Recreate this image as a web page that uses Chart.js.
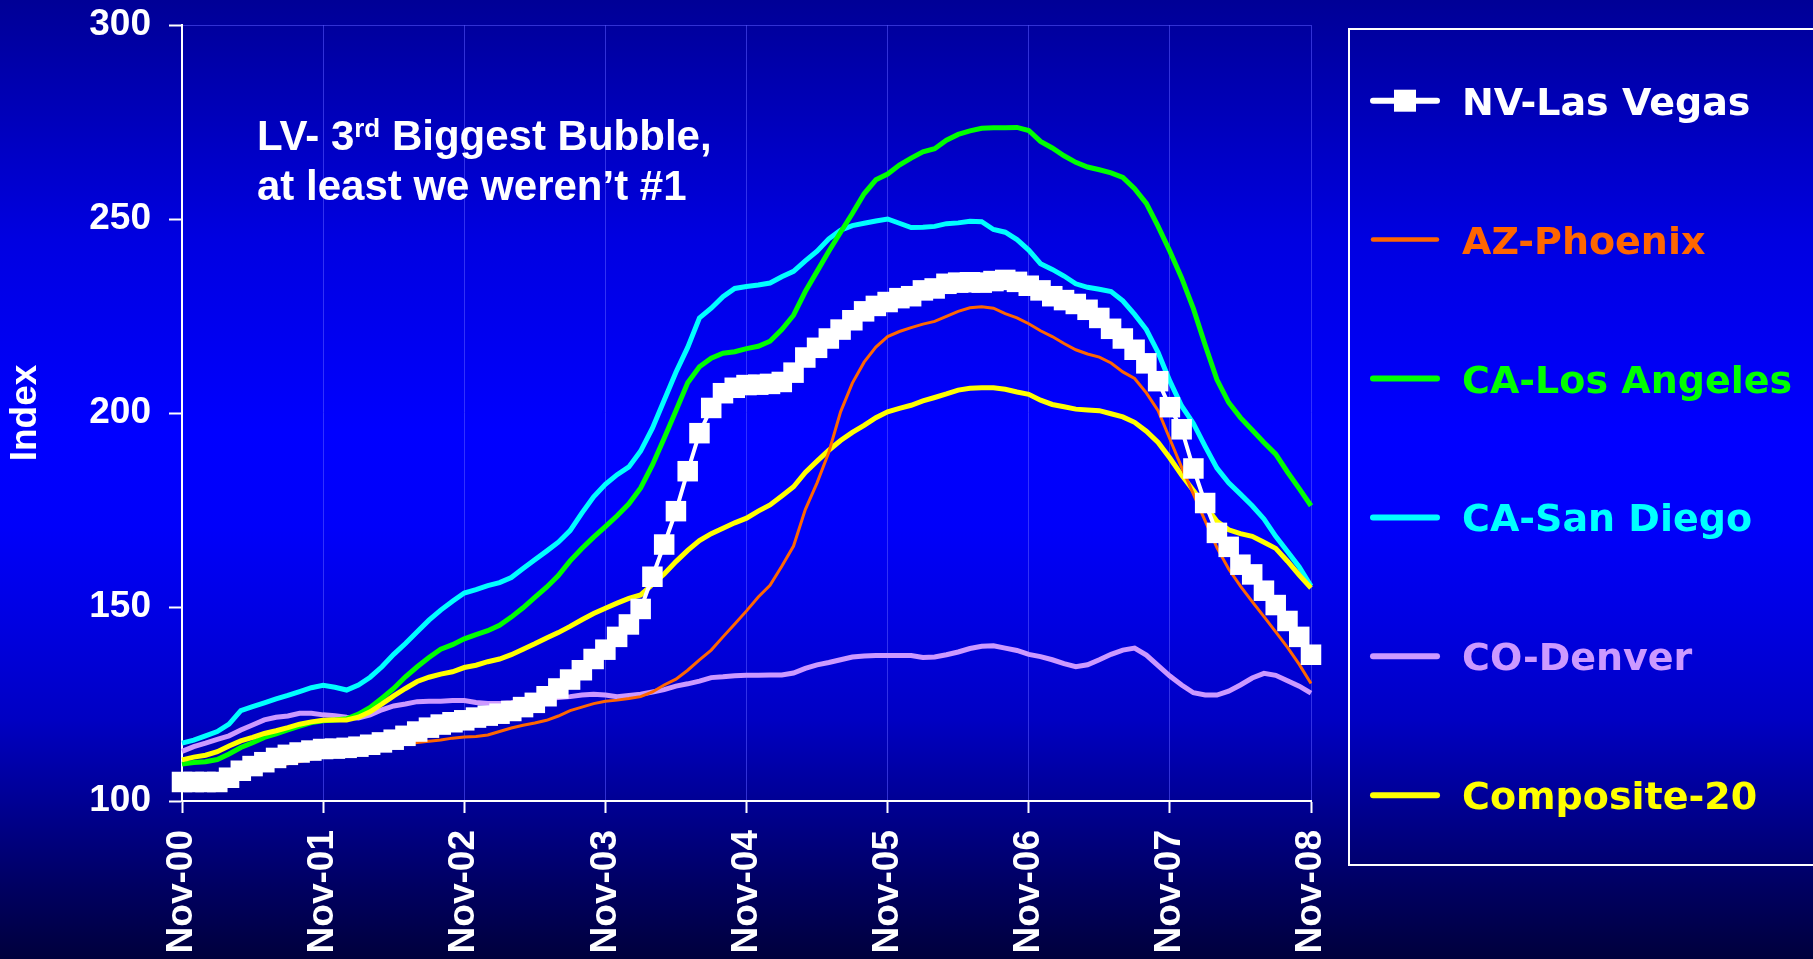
<!DOCTYPE html>
<html>
<head>
<meta charset="utf-8">
<title>Home price index, Nov-00 to Nov-08</title>
<script src="https://cdn.jsdelivr.net/npm/chart.js@4.4.1/dist/chart.umd.min.js"></script>
<style>
  html, body {
    margin: 0; padding: 0; width: 1813px; height: 959px; overflow: hidden;
    background: linear-gradient(to bottom,
      rgb(0,0,150) 0%, rgb(0,0,225) 25%, rgb(0,0,255) 45%, rgb(0,0,250) 55%,
      rgb(0,0,225) 65%, rgb(0,0,195) 75%, rgb(0,0,140) 85%, rgb(0,0,100) 92%, rgb(0,0,60) 100%);
  }
  canvas { display: block; }
</style>
</head>
<body>
<canvas id="chart" width="1813" height="959"></canvas>
<script>
// Month names, starting from November (first month of the series)
const monthCycle = ['Nov','Dec','Jan','Feb','Mar','Apr','May','Jun','Jul','Aug','Sep','Oct'];
const monthCount = 97; // Nov-00 .. Nov-08
const monthLabels = [];
for (let i = 0; i < monthCount; i++) {
  const yr = Math.floor((i + 10) / 12);
  monthLabels.push(monthCycle[i % 12] + '-' + String(yr).padStart(2, '0'));
}
const yTicks = [100, 150, 200, 250, 300];

// Monthly index values
const lasVegas = [
  104.9,104.9,104.9,104.9,106.0,107.8,109.0,110.0,111.1,111.9,112.5,113.0,
  113.4,113.5,113.7,114.0,114.5,115.1,115.8,116.8,117.9,118.9,119.7,120.3,
  120.8,121.5,122.0,122.5,123.2,124.2,125.3,127.0,129.0,131.3,133.7,136.6,
  139.0,142.3,145.5,149.5,157.8,166.1,174.7,185.0,194.8,201.3,205.1,206.5,
  207.2,207.3,207.5,208.0,210.4,214.3,216.8,219.2,221.5,223.9,226.2,227.6,
  228.6,229.6,230.1,231.6,232.1,233.3,233.6,233.7,233.6,234.0,234.3,233.8,
  232.8,231.6,230.1,229.1,228.1,226.6,224.5,221.7,219.2,216.3,212.8,208.2,
  201.5,195.8,185.7,176.8,169.1,165.5,160.9,158.4,154.2,150.5,146.4,142.3,137.7
];
const phoenix = [
  105.5,105.5,105.6,105.8,106.3,107.0,107.7,108.4,109.0,109.6,110.2,110.8,
  111.3,111.7,112.0,112.4,112.9,113.4,114.0,114.6,115.1,115.4,115.7,116.2,
  116.5,116.6,117.0,117.9,118.8,119.5,120.1,120.8,121.9,123.3,124.2,125.1,
  125.7,126.0,126.4,126.9,128.1,129.9,131.4,133.7,136.4,138.9,142.3,145.6,
  149.0,152.6,155.6,160.5,165.7,175.1,182.0,189.9,200.3,207.7,213.1,217.0,
  219.7,221.0,222.0,222.9,223.6,224.9,226.2,227.1,227.4,227.0,225.6,224.5,
  223.0,221.2,219.7,217.9,216.3,215.2,214.4,212.9,210.6,208.9,205.2,200.6,
  193.3,186.0,179.1,172.2,165.3,159.8,155.4,151.4,147.5,143.6,139.6,135.2,130.3
];
const losAngeles = [
  109.5,109.9,110.1,110.7,112.1,113.8,115.0,116.4,117.3,118.3,119.3,120.2,
  120.7,120.9,121.2,122.4,124.1,126.5,129.0,132.0,134.6,137.0,139.1,140.3,
  141.8,142.9,143.9,145.3,147.4,149.8,152.5,155.1,158.1,161.9,165.1,168.0,
  170.7,173.5,176.6,180.7,186.6,193.5,200.6,207.8,211.9,214.1,215.4,215.8,
  216.6,217.2,218.5,221.5,225.2,231.3,236.5,241.7,246.6,251.4,256.5,260.1,
  261.6,263.9,265.7,267.3,268.1,270.3,271.8,272.7,273.4,273.5,273.5,273.6,
  272.8,270.0,268.3,266.3,264.6,263.4,262.7,261.9,260.7,257.8,254.0,248.1,
  241.7,234.8,226.9,217.5,208.6,202.7,198.8,195.6,192.4,189.4,184.8,180.5,176.1
];
const sanDiego = [
  114.9,115.7,116.8,117.9,119.8,123.3,124.3,125.3,126.3,127.2,128.2,129.2,
  129.8,129.3,128.6,129.9,131.9,134.6,137.8,140.6,143.6,146.6,149.2,151.5,
  153.6,154.5,155.5,156.3,157.6,159.9,162.2,164.4,166.7,169.7,174.2,178.4,
  181.6,184.1,186.1,190.2,196.1,203.3,210.5,216.9,224.5,227.0,230.0,232.1,
  232.6,233.0,233.5,235.1,236.5,239.2,241.7,244.9,247.1,248.3,248.9,249.5,
  250.0,248.9,247.8,247.9,248.1,248.8,249.0,249.4,249.3,247.3,246.6,244.7,
  242.0,238.5,237.0,235.3,233.3,232.4,231.9,231.3,228.9,225.4,221.5,215.6,
  208.2,201.8,197.3,191.4,185.8,182.0,179.1,176.1,172.7,168.2,164.3,160.3,155.4
];
const denver = [
  112.8,114.0,114.9,115.9,116.8,118.3,119.6,120.9,121.6,121.9,122.6,122.6,
  122.2,122.0,121.6,121.4,122.2,123.5,124.5,125.0,125.6,125.7,125.7,125.9,
  125.9,125.4,125.1,125.1,125.3,125.7,126.2,126.4,126.7,126.9,127.3,127.5,
  127.3,126.9,127.2,127.5,128.1,128.7,129.6,130.2,130.9,131.8,132.0,132.3,
  132.4,132.4,132.5,132.5,133.0,134.2,135.1,135.7,136.4,137.1,137.4,137.5,
  137.5,137.5,137.5,137.0,137.1,137.7,138.4,139.3,139.9,140.0,139.4,138.8,
  137.8,137.2,136.4,135.4,134.6,135.1,136.4,137.8,138.9,139.4,137.6,134.9,
  132.2,129.9,127.9,127.3,127.3,128.3,129.9,131.7,132.9,132.4,131.0,129.6,127.8
];
const composite20 = [
  110.6,111.3,111.8,112.7,114.2,115.5,116.4,117.4,118.1,118.9,119.8,120.4,
  120.8,120.9,120.9,121.6,123.0,125.0,127.1,129.0,130.8,131.9,132.7,133.3,
  134.4,135.0,135.9,136.6,137.7,139.1,140.5,142.0,143.4,145.0,146.7,148.3,
  149.7,151.0,152.2,153.1,155.8,158.5,161.7,164.6,167.1,168.9,170.3,171.7,
  172.9,174.7,176.3,178.6,181.0,184.7,187.6,190.4,192.9,195.0,196.8,198.8,
  200.3,201.2,202.0,203.1,204.0,204.9,205.9,206.4,206.5,206.5,206.1,205.4,
  204.8,203.3,202.2,201.6,201.0,200.8,200.6,199.8,199.0,197.6,195.3,192.4,
  188.4,184.0,180.0,176.1,172.1,169.9,168.9,168.2,166.7,165.1,161.8,158.2,154.9
];

const seriesNames = ['NV-Las Vegas','AZ-Phoenix','CA-Los Angeles','CA-San Diego','CO-Denver','Composite-20'];
const seriesColors = ['#ffffff','#ff6600','#00ff00','#00ffff','#cc99ff','#ffff00'];

const ARIAL = '"Liberation Sans", Arial, Helvetica, sans-serif';
const VERDANA = '"DejaVu Sans", Verdana, sans-serif';

// Caption in the upper left of the plot
const captionPlugin = {
  id: 'caption',
  afterDraw(chart) {
    const ctx = chart.ctx;
    const ca = chart.chartArea;
    const x0 = ca.left + 75;
    const y1 = ca.top + 125;
    const y2 = ca.top + 175;
    ctx.save();
    ctx.fillStyle = '#ffffff';
    ctx.textAlign = 'left';
    ctx.textBaseline = 'alphabetic';
    ctx.font = 'bold 42px ' + ARIAL;
    let x = x0;
    ctx.fillText('LV- 3', x, y1);
    x += ctx.measureText('LV- 3').width;
    ctx.font = 'bold 26px ' + ARIAL;
    ctx.fillText('rd', x, y1 - 13);
    x += ctx.measureText('rd').width;
    ctx.font = 'bold 42px ' + ARIAL;
    ctx.fillText(' Biggest Bubble,', x, y1);
    ctx.fillText('at least we weren\u2019t #1', x0, y2);
    ctx.restore();
  }
};

// Framed legend on the right-hand side
const legendPlugin = {
  id: 'sideLegend',
  afterDraw(chart) {
    const ctx = chart.ctx;
    const boxLeft = 1349, boxTop = 29, boxBottom = 865;
    const firstY = 100.7, stepY = 138.9;
    const lineX1 = 1373, lineX2 = 1437, textX = 1462;
    ctx.save();
    ctx.strokeStyle = '#ffffff';
    ctx.lineWidth = 2;
    ctx.beginPath();
    ctx.moveTo(chart.width + 5, boxTop);
    ctx.lineTo(boxLeft, boxTop);
    ctx.lineTo(boxLeft, boxBottom);
    ctx.lineTo(chart.width + 5, boxBottom);
    ctx.stroke();

    chart.data.datasets.forEach((ds, i) => {
      const y = firstY + i * stepY;
      ctx.strokeStyle = ds.borderColor;
      ctx.lineWidth = ds.borderWidth < 4 ? 4.5 : 6;
      ctx.lineCap = 'round';
      ctx.beginPath();
      ctx.moveTo(lineX1, y);
      ctx.lineTo(lineX2, y);
      ctx.stroke();
      if (ds.pointStyle === 'rect') {
        ctx.fillStyle = ds.borderColor;
        ctx.fillRect((lineX1 + lineX2) / 2 - 11, y - 11, 22, 22);
      }
      ctx.fillStyle = ds.borderColor;
      ctx.font = 'bold 38px ' + VERDANA;
      ctx.textAlign = 'left';
      ctx.textBaseline = 'alphabetic';
      ctx.fillText(ds.label, textX, y + 14);
    });
    ctx.restore();
  }
};

const seriesData = [lasVegas, phoenix, losAngeles, sanDiego, denver, composite20];
const lineWidths = [4, 3, 5, 5, 5, 5];
const drawOrder = [0, 1, 3, 4, 5, 2];

const datasets = seriesNames.map((name, i) => ({
  label: name,
  data: seriesData[i],
  borderColor: seriesColors[i],
  backgroundColor: seriesColors[i],
  borderWidth: lineWidths[i],
  tension: 0,
  order: drawOrder[i],
  pointRadius: i === 0 ? 14.5 : 0,
  pointHoverRadius: i === 0 ? 14.5 : 0,
  pointStyle: i === 0 ? 'rect' : 'circle',
  pointBackgroundColor: seriesColors[i],
  pointBorderWidth: 0,
  clip: i === 0 ? false : undefined
}));

const faintGrid = 'rgba(90,90,255,0.55)';

new Chart(document.getElementById('chart'), {
  type: 'line',
  data: { labels: monthLabels, datasets },
  options: {
    responsive: false,
    animation: false,
    devicePixelRatio: 1,
    layout: { padding: { left: 0, top: 25, right: 502, bottom: 0 } },
    plugins: {
      legend: { display: false },
      tooltip: { enabled: false }
    },
    scales: {
      x: {
        type: 'category',
        offset: false,
        border: { display: true, color: '#ffffff', width: 2 },
        grid: {
          display: true,
          drawOnChartArea: true,
          color: faintGrid,
          lineWidth: 1,
          drawTicks: true,
          tickLength: 12,
          tickColor: '#ffffff',
          tickWidth: 2
        },
        ticks: {
          autoSkip: false,
          maxRotation: 90,
          minRotation: 90,
          padding: 17,
          color: '#ffffff',
          font: { family: ARIAL, size: 37, weight: 'bold' },
          callback(value) {
            const lab = this.getLabelForValue(value);
            return lab.startsWith('Nov') ? lab : null;
          }
        },
        afterFit(scale) { scale.height = 158; }
      },
      y: {
        min: yTicks[0],
        max: yTicks[yTicks.length - 1],
        afterBuildTicks(scale) { scale.ticks = yTicks.map(v => ({ value: v })); },
        border: { display: true, color: '#ffffff', width: 2 },
        grid: {
          display: true,
          drawOnChartArea: true,
          color: ctx => (ctx.tick && ctx.tick.value === 300 ? faintGrid : 'rgba(0,0,0,0)'),
          lineWidth: 1,
          drawTicks: true,
          tickLength: 13,
          tickColor: '#ffffff',
          tickWidth: 2
        },
        ticks: {
          padding: 18,
          color: '#ffffff',
          font: { family: ARIAL, size: 37, weight: 'bold' }
        },
        title: {
          display: true,
          text: 'Index',
          color: '#ffffff',
          font: { family: ARIAL, size: 37, weight: 'bold' },
          padding: { top: 4, bottom: 0 }
        },
        afterFit(scale) {
          scale.width = 182;
          scale.paddingTop = 0;
          scale.paddingBottom = 0;
        }
      }
    }
  },
  plugins: [captionPlugin, legendPlugin]
});
</script>
</body>
</html>
